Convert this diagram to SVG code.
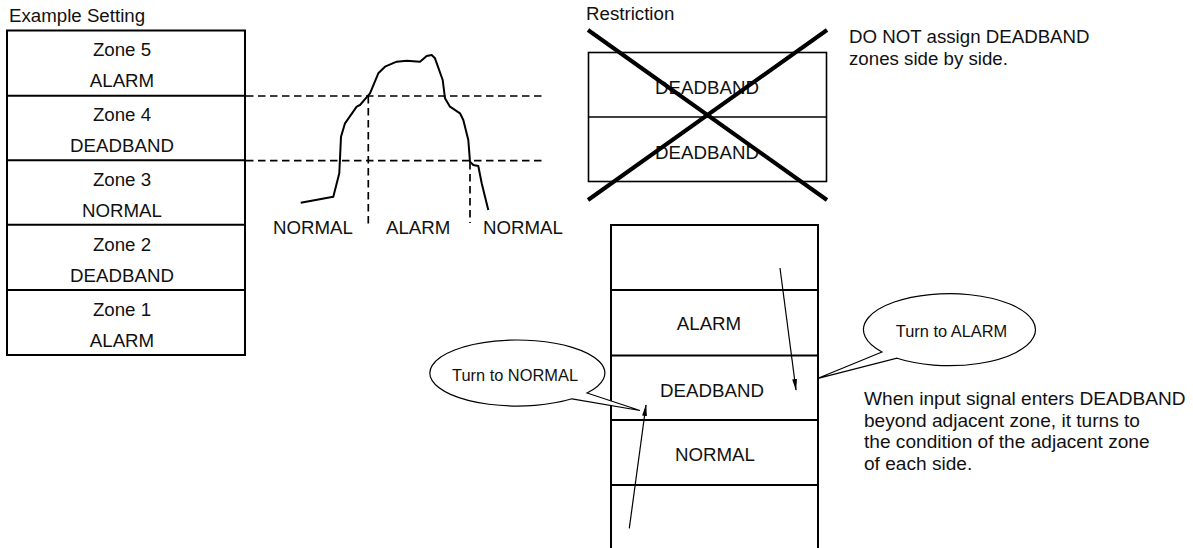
<svg xmlns="http://www.w3.org/2000/svg" width="1193" height="548" viewBox="0 0 1193 548">
<style>
text{font-family:"Liberation Sans",Arial,Helvetica,sans-serif;font-size:18.7px;fill:#111}
.c{text-anchor:middle}
.s{font-size:16.4px}
.n{font-size:19.1px}
.box{fill:#fff;stroke:#000;stroke-width:2}
.ln{stroke:#000;stroke-width:2;fill:none}
.dash{stroke:#000;stroke-width:1.7;stroke-dasharray:7.5 4.5;fill:none}
.thin{stroke:#000;stroke-width:1.2;fill:none}
.bub{fill:#fff;stroke:#000;stroke-width:1.2}
</style>
<defs>
<marker id="ah" markerWidth="12" markerHeight="6" refX="11" refY="3" orient="auto" markerUnits="userSpaceOnUse">
<path d="M0,0.6 L12,3 L0,5.4 Z" fill="#000"/>
</marker>
</defs>
<g id="example-setting">
<text x="9" y="21.5">Example Setting</text>
<rect class="box" x="7" y="30.5" width="238" height="324.5"/>
<line class="ln" x1="7" y1="95.7" x2="245" y2="95.7"/>
<line class="ln" x1="7" y1="160.3" x2="245" y2="160.3"/>
<line class="ln" x1="7" y1="224.7" x2="245" y2="224.7"/>
<line class="ln" x1="7" y1="290" x2="245" y2="290"/>
<text class="c" x="122" y="56">Zone 5</text>
<text class="c" x="122" y="87">ALARM</text>
<text class="c" x="122" y="121">Zone 4</text>
<text class="c" x="122" y="152">DEADBAND</text>
<text class="c" x="122" y="186">Zone 3</text>
<text class="c" x="122" y="217">NORMAL</text>
<text class="c" x="122" y="250.5">Zone 2</text>
<text class="c" x="122" y="281.5">DEADBAND</text>
<text class="c" x="122" y="315.5">Zone 1</text>
<text class="c" x="122" y="346.5">ALARM</text>
</g>
<g id="signal-graph">
<line class="dash" x1="246" y1="96" x2="546" y2="96"/>
<line class="dash" x1="246" y1="160.6" x2="546" y2="160.6"/>
<line class="dash" x1="368.3" y1="96" x2="368.3" y2="226"/>
<line class="dash" x1="470" y1="162" x2="470" y2="223"/>
<path class="ln" stroke-width="1.8" stroke-linejoin="round" d="M300.7,202.7 L333.3,196.7 L339.3,173.3 L341,136.7 L345,123.3 L356.7,106.7 L360,105 L370,93.3 L378.3,73.3 L385,66.7 L396.7,61.7 L406.7,60.7 L420,61.7 L426.7,56 L431.7,55 L435,58.3 L442.7,80 L445,98.3 L450,106.7 L460,113.3 L463.3,120 L468.3,140 L470,161.7 L473.3,165 L478.3,166 L481.7,183.3 L488.3,210"/>
<text x="273" y="234">NORMAL</text>
<text x="386" y="234">ALARM</text>
<text x="483" y="234">NORMAL</text>
</g>
<g id="restriction">
<text x="586" y="20">Restriction</text>
<rect x="588.5" y="52.5" width="238" height="129" fill="#fff" stroke="#000" stroke-width="1.6"/>
<line x1="588.5" y1="117" x2="826.5" y2="117" stroke="#000" stroke-width="1.6"/>
<text class="c" x="707" y="94">DEADBAND</text>
<text class="c" x="707" y="158.5">DEADBAND</text>
<line x1="588" y1="30" x2="827" y2="200" stroke="#000" stroke-width="4"/>
<line x1="827" y1="30" x2="588" y2="200" stroke="#000" stroke-width="4"/>
<text x="849" y="43">DO NOT assign DEADBAND</text>
<text x="849" y="64.5">zones side by side.</text>
</g>
<g id="zone-stack">
<path class="ln" d="M611,550 L611,225 L818,225 L818,550"/>
<line class="ln" x1="611" y1="290" x2="818" y2="290"/>
<line class="ln" x1="611" y1="355.5" x2="818" y2="355.5"/>
<line class="ln" x1="611" y1="420" x2="818" y2="420"/>
<line class="ln" x1="611" y1="485" x2="818" y2="485"/>
<text class="c" x="709" y="330">ALARM</text>
<text class="c" x="712" y="396.5">DEADBAND</text>
<text class="c" x="715" y="460.5">NORMAL</text>
</g>
<g id="callout-normal">
<path class="bub" d="M572,398.8 L640,410.5 L587,393 A87.5 33 0 1 0 572,398.8 Z"/>
<text class="c s" x="515" y="380.5">Turn to NORMAL</text>
</g>
<g id="callout-alarm">
<path class="bub" d="M882,352 L818,378.3 L897,358.2 A86 36 0 1 0 882,352 Z"/>
<text class="c s" x="951.5" y="336.5">Turn to ALARM</text>
</g>
<g id="note">
<text class="n" x="864" y="405">When input signal enters DEADBAND</text>
<text class="n" x="864" y="426.5">beyond adjacent zone, it turns to</text>
<text class="n" x="864" y="448">the condition of the adjacent zone</text>
<text class="n" x="864" y="469.5">of each side.</text>
</g>
<g id="connectors">
<line class="thin" x1="780" y1="268" x2="796" y2="390" marker-end="url(#ah)"/>
<line class="thin" x1="629.3" y1="528.3" x2="646" y2="405" marker-end="url(#ah)"/>
</g>
</svg>
